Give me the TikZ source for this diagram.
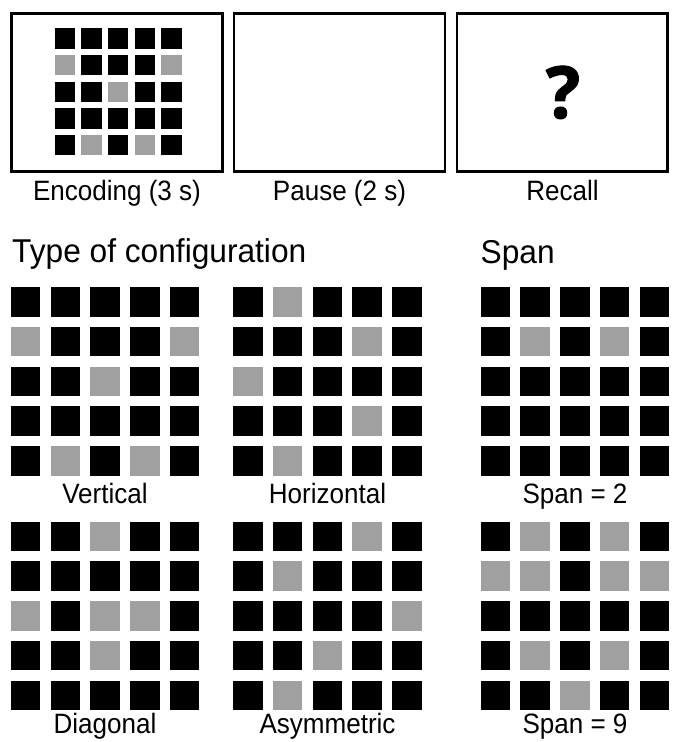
\documentclass[tikz,border=0pt]{standalone}
\usepackage{fontspec}
\setmainfont{Liberation Sans}
\newfontfamily\qfont[FakeBold=1.5]{Open Sans Bold}
\definecolor{sqgray}{RGB}{160,160,160}
\tikzset{
  blacksq/.style={fill=black},
  graysq/.style={fill=sqgray},
  framebox/.style={draw=black, line width=2.5pt},
  lbl/.style={inner sep=0pt, anchor=base, xscale=0.93, font=\fontsize{28}{32}\selectfont},
  head/.style={inner sep=0pt, anchor=base west, xscale=0.96, font=\fontsize{33}{36}\selectfont}
}
\newcommand\mkgrid[5]{%
  \foreach \r in {0,...,4}{\foreach \c in {0,...,4}{%
    \fill[blacksq] ({#1+\c*#4},{#2+\r*#4}) rectangle ++(#3,#3);}}%
  \foreach \r/\c in {#5}{%
    \fill[graysq] ({#1+\c*#4},{#2+\r*#4}) rectangle ++(#3,#3);}%
}
\begin{document}
\begin{tikzpicture}[x=1pt,y=-1pt]
\useasboundingbox (0,0) rectangle (673,742);
\fill[white] (0,0) rectangle (673,742);
% top panels
\draw[framebox] (11.6,13.5) rectangle (222.5,171.5);
\draw[framebox] (234,13.5) rectangle (445,171.5);
\draw[framebox] (457,13.5) rectangle (667.5,171.5);
\mkgrid{54.8}{28.3}{20.4}{26.6}{1/0,1/4,2/2,4/1,4/3}
\node[inner sep=0pt, anchor=base, font=\qfont\fontsize{72}{80}\selectfont] (q) at (563,118) {?};
\node[lbl] (enc) at (117,200) {Encoding (3 s)};
\node[lbl] (pau) at (339.5,200) {Pause (2 s)};
\node[lbl] (rec) at (562.5,200) {Recall};
% headings
\node[head] (toc) at (12,262) {Type of configuration};
\node[head] (spn) at (480.5,263) {Span};
% grids
\mkgrid{11}{287.3}{29.4}{39.7}{1/0,1/4,2/2,4/1,4/3}
\mkgrid{233.3}{287.3}{29.4}{39.7}{0/1,1/3,2/0,3/3,4/1}
\mkgrid{480.7}{287.3}{29.4}{39.7}{1/1,1/3}
\mkgrid{11}{521.7}{29.4}{39.7}{0/2,2/0,2/2,2/3,3/2}
\mkgrid{233.3}{521.7}{29.4}{39.7}{0/3,1/1,2/4,3/2,4/1}
\mkgrid{480.7}{521.7}{29.4}{39.7}{0/1,0/3,1/0,1/1,1/3,1/4,3/1,3/3,4/2}
% labels
\node[lbl] (ver) at (105,503) {Vertical};
\node[lbl] (hor) at (327.5,503) {Horizontal};
\node[lbl] (sp2) at (575,503) {Span = 2};
\node[lbl] (dia) at (105,733) {Diagonal};
\node[lbl] (asy) at (327.5,733) {Asymmetric};
\node[lbl] (sp9) at (575,733) {Span = 9};
\end{tikzpicture}
\end{document}
